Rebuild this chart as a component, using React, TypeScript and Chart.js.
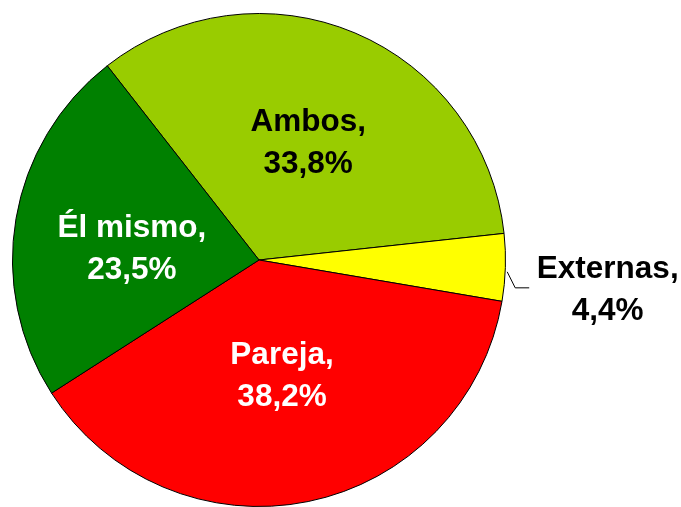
import React, { useEffect, useRef } from "react";
import { Chart, registerables } from "chart.js";

Chart.register(...registerables);

const categories = ["Ambos", "Externas", "Pareja", "Él mismo"];
const values = [33.8, 4.4, 38.2, 23.5];
const sliceColors = ["#99CC00", "#FFFF00", "#FF0000", "#008000"];
const labelColors = ["#000000", "#000000", "#FFFFFF", "#FFFFFF"];
const labelRadius = [0.521, 0, 0.472, 0.518];
const labelAngleShift = [-0.4, 1, 0.1, -4];
const outsideLabel = [false, true, false, false];

const fmt = (v: number) => v.toFixed(1).replace(".", ",") + "%";

const labelPlugin = {
  id: "pieLabels",
  afterDatasetsDraw(chart: any) {
    const ctx = chart.ctx;
    const meta = chart.getDatasetMeta(0);
    ctx.save();
    ctx.font = 'bold 31.5px "Liberation Sans", Arial, sans-serif';
    ctx.textAlign = "center";
    ctx.textBaseline = "alphabetic";
    const lh = 42;
    meta.data.forEach((arc: any, i: number) => {
      const p = arc.getProps(["x", "y", "startAngle", "endAngle", "outerRadius"], true);
      const mid = (p.startAngle + p.endAngle) / 2 + (labelAngleShift[i] * Math.PI) / 180;
      const lines = [categories[i] + ",", fmt(values[i])];
      let cx: number;
      let cy: number;
      if (outsideLabel[i]) {
        const sx = p.x + Math.cos(mid) * (p.outerRadius + 2);
        const sy = p.y + Math.sin(mid) * (p.outerRadius + 2);
        const ex = sx + 8;
        const ey = sy + 16;
        const hx = ex + 14;
        ctx.strokeStyle = "#000000";
        ctx.lineWidth = 1;
        ctx.beginPath();
        ctx.moveTo(sx, sy);
        ctx.lineTo(ex, ey);
        ctx.lineTo(hx, ey);
        ctx.stroke();
        cx = hx + 78.5;
        cy = ey;
      } else {
        const r = p.outerRadius * labelRadius[i];
        cx = p.x + Math.cos(mid) * r;
        cy = p.y + Math.sin(mid) * r;
      }
      ctx.fillStyle = labelColors[i];
      ctx.fillText(lines[0], cx, cy - lh / 2 + 11);
      ctx.fillText(lines[1], cx, cy + lh / 2 + 11);
    });
    ctx.restore();
  },
};

export default function App() {
  const ref = useRef<HTMLCanvasElement | null>(null);
  useEffect(() => {
    if (!ref.current) return;
    const chart = new Chart(ref.current, {
      type: "pie",
      data: {
        labels: categories,
        datasets: [
          {
            data: values,
            backgroundColor: sliceColors,
            borderColor: "#000000",
            borderWidth: 1,
          },
        ],
      },
      options: {
        responsive: false,
        animation: false,
        rotation: -38,
        layout: { padding: { left: 12, top: 13, right: 175, bottom: 0 } },
        plugins: {
          legend: { display: false },
          tooltip: { enabled: false },
        },
      },
      plugins: [labelPlugin],
    });
    return () => chart.destroy();
  }, []);
  return (
    <div style={{ position: "absolute", left: 0, top: 0, width: 681, height: 507, background: "#fff" }}>
      <canvas ref={ref} width={681} height={507} />
    </div>
  );
}
